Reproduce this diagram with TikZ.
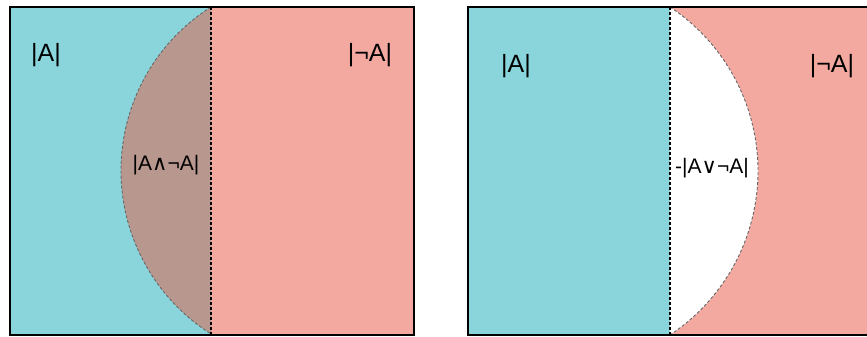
\documentclass[tikz,border=0pt]{standalone}
\usepackage{fontspec}
\setmainfont{Liberation Sans}
\newfontfamily\symfont{DejaVu Sans}
\definecolor{acyan}{HTML}{8AD5DB}
\definecolor{apink}{HTML}{F3A9A0}
\definecolor{aboth}{HTML}{B8978E}
\begin{document}
\begin{tikzpicture}[x=1pt, y=1pt,
  frame/.style={draw=black, line width=2pt},
  divider/.style={draw=black, line width=1.6pt, dash pattern=on 3pt off 2pt},
  rim/.style={draw=black!60, line width=0.9pt, dash pattern=on 3pt off 2pt},
  big/.style={font=\fontsize{25}{30}\selectfont, inner sep=0pt},
  small/.style={font=\fontsize{21}{25}\selectfont, inner sep=0pt}]
\useasboundingbox (0,0) rectangle (867,337);
% left panel: the part where both hold
\fill[acyan] (10,2) rectangle (211,330);
\fill[apink] (211,2) rectangle (414,330);
\fill[aboth] (211,330) arc[start angle=122.34, end angle=237.66, radius=193.5] -- cycle;
\draw[rim] (211,330) arc[start angle=122.34, end angle=237.66, radius=193.5];
\draw[divider] (211,330) -- (211,2);
\draw[frame] (10,2) rectangle (414,330);
\node[big] (la) at (46,282) {|A|};
\node[big] (lna) at (370,282) {|¬A|};
\node[small] (land) at (166,172) {|A{\symfont∧}¬A|};
% right panel: the part where neither holds
\fill[acyan] (468,2) rectangle (670,330);
\fill[apink] (670,2) rectangle (900,330);
\fill[white] (670,330) arc[start angle=56.44, end angle=-56.44, radius=196.8] -- cycle;
\draw[rim] (670,330) arc[start angle=56.44, end angle=-56.44, radius=196.8];
\draw[divider] (670,330) -- (670,2);
\draw[frame] (468,2) rectangle (900,330);
\node[big] (ra) at (516,271) {|A|};
\node[big] (rna) at (832,271) {|¬A|};
\node[small] (ror) at (712,169) {-|A{\symfont∨}¬A|};
\end{tikzpicture}
\end{document}
